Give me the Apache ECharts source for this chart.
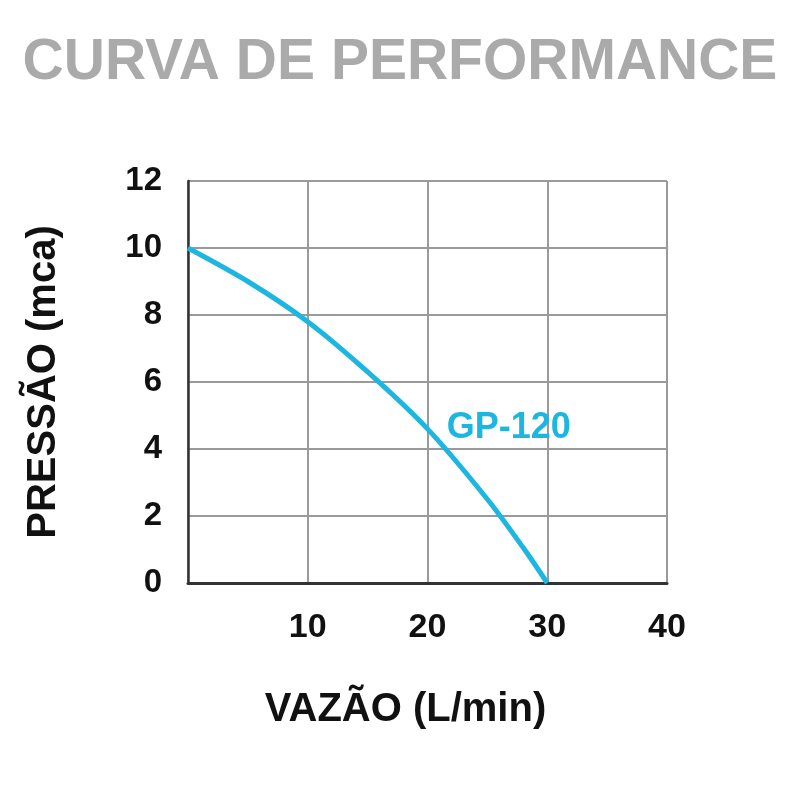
<!DOCTYPE html>
<html>
<head>
<meta charset="utf-8">
<script src="https://cdn.jsdelivr.net/npm/echarts@6/dist/echarts.min.js"></script>
<style>
html,body{margin:0;padding:0;background:#fff;}
#chart{width:800px;height:800px;}
</style>
</head>
<body>
<div id="chart"></div>
<script>
// Data
const flowLpm = [0, 5, 10, 15, 20, 25, 28, 30];
const pressureMca = [10, 9.0, 7.8, 6.3, 4.6, 2.5, 1.05, 0];
const seriesName = 'GP-120';
const titleText = 'CURVA DE PERFORMANCE';
const xAxisTitle = 'VAZÃO (L/min)';
const yAxisTitle = 'PRESSÃO (mca)';

const curve = flowLpm.map((x, i) => [x, pressureMca[i]]);
const FONT = '"Liberation Sans", Arial, sans-serif';
const CYAN = '#1db6e1';

const chart = echarts.init(document.getElementById('chart'), null, {renderer: 'canvas'});
chart.setOption({
  animation: false,
  backgroundColor: '#ffffff',
  title: {
    text: titleText,
    left: 'center',
    top: 30,
    textStyle: {fontFamily: FONT, fontWeight: 'bold', fontSize: 57, color: '#aaaaaa'}
  },
  grid: {left: 188, right: 133, top: 181, bottom: 217, containLabel: false},
  xAxis: {
    type: 'value', min: 0, max: 40, interval: 10,
    name: xAxisTitle, nameLocation: 'middle', nameGap: 107,
    nameTextStyle: {fontFamily: FONT, fontWeight: 'bold', fontSize: 40, color: '#111', padding: [0, 44, 0, 0]},
    axisLine: {show: true, lineStyle: {color: '#333', width: 3}},
    axisTick: {show: false},
    axisLabel: {
      margin: 28, fontFamily: FONT, fontWeight: 'bold', fontSize: 34, color: '#111',
      formatter: v => (v === 0 ? '' : String(v))
    },
    splitLine: {show: true, lineStyle: {color: '#9a9a9a', width: 2}}
  },
  yAxis: {
    type: 'value', min: 0, max: 12, interval: 2,
    name: yAxisTitle, nameLocation: 'middle', nameGap: 124, nameRotate: 90,
    nameTextStyle: {fontFamily: FONT, fontWeight: 'bold', fontSize: 40, color: '#111'},
    axisLine: {show: true, lineStyle: {color: '#333', width: 2.5}},
    axisTick: {show: false},
    axisLabel: {margin: 26, fontFamily: FONT, fontWeight: 'bold', fontSize: 33, color: '#111'},
    splitLine: {show: true, lineStyle: {color: '#9a9a9a', width: 2}}
  },
  series: [{
    name: seriesName,
    type: 'line',
    data: curve,
    smooth: 0.3,
    symbol: 'none',
    lineStyle: {color: CYAN, width: 5},
    markPoint: {
      symbol: 'circle', symbolSize: 0,
      data: [{coord: [21.6, 4.62], value: seriesName}],
      label: {
        show: true, position: 'right', distance: 0,
        formatter: seriesName,
        fontFamily: FONT, fontWeight: 'bold', fontSize: 36, color: CYAN
      }
    }
  }]
});
</script>
</body>
</html>
